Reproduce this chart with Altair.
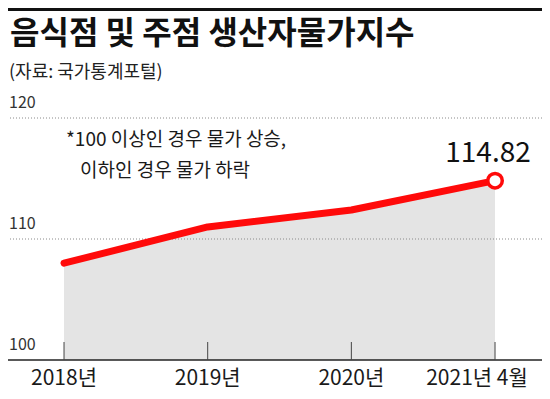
import altair as alt
import pandas as pd

# ---- data ----
categories = ["2018년", "2019년", "2020년", "2021년 4월"]
positions = [0, 1, 2, 3]
values = [108.0, 111.0, 112.4, 114.82]
grid_values = [110, 120]
y_tick_values = [100, 110, 120]
y_tick_labels = ["100", "110", "120"]

title_text = "음식점 및 주점 생산자물가지수"
subtitle_text = "(자료: 국가통계포털)"
note_line1 = "*100 이상인 경우 물가 상승,"
note_line2 = "이하인 경우 물가 하락"

df = pd.DataFrame({"pos": positions, "label": categories, "value": values})
last_df = df.iloc[[-1]].copy()
last_df["txt"] = [f"{v:.2f}" for v in last_df["value"]]
grid_df = pd.DataFrame({"v": grid_values})
ylab_df = pd.DataFrame({"v": y_tick_values, "t": y_tick_labels})

KR = "Noto Sans CJK KR"
W = 534
H = 242
PAD_TOP = 110
PAD_BOTTOM = 31

xs = alt.Scale(domain=[-0.39, 3.327], nice=False, zero=False)
ys = alt.Scale(domain=[100, 120], nice=False, zero=False)
X = alt.X("pos:Q", scale=xs, axis=None)
Y = alt.Y("value:Q", scale=ys, axis=None)

base = alt.Chart(df)

area = base.mark_area(color="#e4e4e4").encode(x=X, y=Y, y2=alt.datum(100))

grid = alt.Chart(grid_df).mark_rule(color="#8a8a8a", strokeDash=[1, 2], strokeWidth=1).encode(
    y=alt.Y("v:Q", scale=ys, axis=None)
)

baseline = alt.Chart(pd.DataFrame({"v": [100]})).mark_rule(color="#222222", strokeWidth=1.5).encode(
    y=alt.Y("v:Q", scale=ys, axis=None)
)

ticks = base.mark_rule(color="#444444", strokeWidth=1).encode(
    x=X, y=alt.value(H - 18), y2=alt.value(H)
)

line = base.mark_line(color="#ff0a0a", strokeWidth=7, strokeCap="round", strokeJoin="round").encode(x=X, y=Y)

point = alt.Chart(last_df).mark_point(
    shape="circle", filled=True, fill="white", stroke="#ff0a0a", strokeWidth=3.5, size=210, opacity=1
).encode(x=X, y=Y)

value_label = alt.Chart(last_df).mark_text(
    font=KR, fontSize=28, color="#111111",
    align="center", baseline="middle", dx=-7, dy=-27
).encode(x=X, y=Y, text="txt:N")

xlab_main = alt.Chart(df.iloc[:3]).mark_text(
    font=KR, fontSize=21, color="#1a1a1a", align="center", baseline="middle"
).encode(x=X, y=alt.value(H + 19), text="label:N")

xlab_last = alt.Chart(df.iloc[[3]]).mark_text(
    font=KR, fontSize=21, color="#1a1a1a", align="center", baseline="middle", dx=-18
).encode(x=X, y=alt.value(H + 19), text="label:N")

ylabels = alt.Chart(ylab_df).mark_text(
    font=KR, fontSize=16, color="#333333", align="left", baseline="middle", dy=-15
).encode(x=alt.value(1), y=alt.Y("v:Q", scale=ys, axis=None), text="t:N")

note1 = alt.Chart(df.iloc[[0]]).mark_text(
    text=note_line1, font=KR, fontSize=19, color="#1a1a1a", align="left", baseline="middle"
).encode(x=alt.value(58), y=alt.value(132 - PAD_TOP))

note2 = alt.Chart(df.iloc[[0]]).mark_text(
    text=note_line2, font=KR, fontSize=19, color="#1a1a1a", align="left", baseline="middle"
).encode(x=alt.value(72), y=alt.value(163 - PAD_TOP))

top_rule = alt.Chart(df.iloc[[0]]).mark_rule(color="#111111", strokeWidth=3).encode(
    x=alt.value(0), x2=alt.value(W), y=alt.value(1.5 - PAD_TOP)
)

title = alt.Chart(df.iloc[[0]]).mark_text(
    text=title_text, font=KR, fontSize=32, fontWeight="bold", color="#111111",
    align="left", baseline="middle"
).encode(x=alt.value(2), y=alt.value(26 - PAD_TOP))

subtitle = alt.Chart(df.iloc[[0]]).mark_text(
    text=subtitle_text, font=KR, fontSize=18, color="#222222",
    align="left", baseline="middle"
).encode(x=alt.value(1), y=alt.value(65 - PAD_TOP))

chart = alt.layer(
    area, grid, baseline, ticks, line, point, value_label,
    xlab_main, xlab_last, ylabels, note1, note2, top_rule, title, subtitle
).properties(
    width=W, height=H,
    padding={"left": 0, "right": 0, "top": PAD_TOP, "bottom": PAD_BOTTOM},
    autosize=alt.AutoSizeParams(type="none"),
    background="white",
).configure_view(stroke=None)

chart.save("out.html", embed_options={"renderer": "svg", "actions": False})
